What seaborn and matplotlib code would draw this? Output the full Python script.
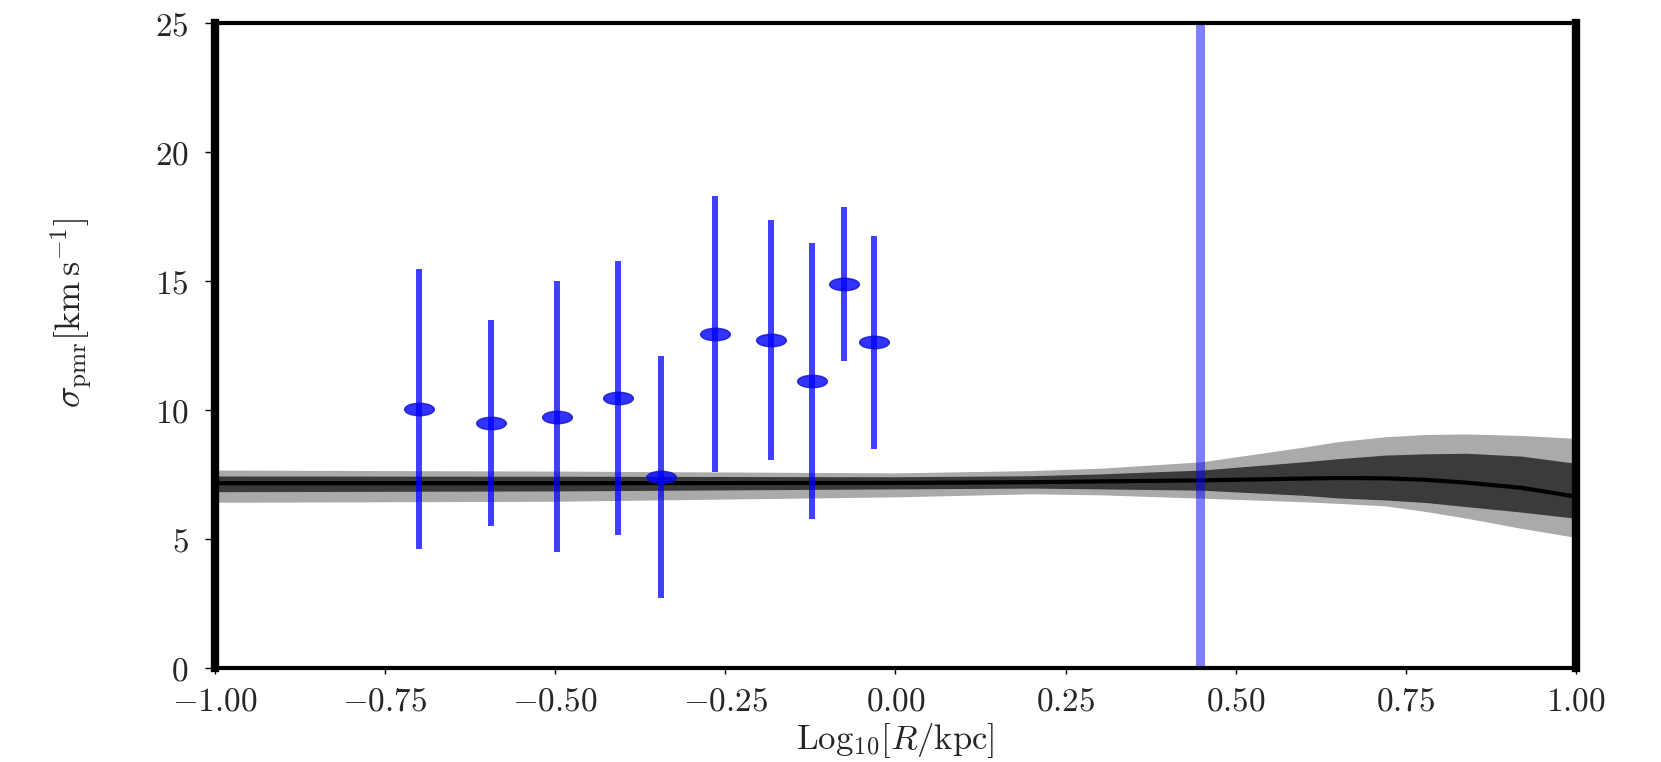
import numpy as np
import pandas as pd
import matplotlib
matplotlib.use("Agg")
import matplotlib.pyplot as plt
from matplotlib.path import Path
from matplotlib.transforms import Affine2D
from matplotlib.ticker import FuncFormatter
import seaborn as sns

sns.set_style("ticks")
plt.rcParams['mathtext.fontset'] = 'cm'
plt.rcParams['font.family'] = ['DejaVu Serif']

# binned data points (log10 R, sigma_pmr, error)
log_r = [-0.700, -0.594, -0.497, -0.408, -0.344, -0.265, -0.183, -0.123, -0.075, -0.032]
sigma = [10.03, 9.50, 9.73, 10.44, 7.40, 12.93, 12.70, 11.12, 14.88, 12.62]
sigma_err = [5.44, 3.99, 5.24, 5.31, 4.70, 5.35, 4.65, 5.34, 2.98, 4.13]

# model curve with 68% and 95% bands
model_x = [-1.00, -0.50, 0.00, 0.20, 0.30, 0.45, 0.60, 0.65, 0.72, 0.78, 0.84, 0.92, 1.00]
model_med = [7.15, 7.15, 7.16, 7.19, 7.22, 7.26, 7.33, 7.35, 7.34, 7.28, 7.17, 6.97, 6.63]
model_lo1 = [6.82, 6.85, 6.93, 6.96, 6.93, 6.88, 6.68, 6.58, 6.50, 6.40, 6.24, 6.03, 5.79]
model_hi1 = [7.43, 7.42, 7.40, 7.44, 7.51, 7.66, 7.98, 8.10, 8.24, 8.29, 8.31, 8.20, 7.92]
model_lo2 = [6.41, 6.45, 6.62, 6.74, 6.70, 6.57, 6.43, 6.37, 6.27, 6.05, 5.79, 5.40, 5.05]
model_hi2 = [7.66, 7.62, 7.55, 7.64, 7.73, 7.98, 8.55, 8.76, 8.95, 9.04, 9.06, 9.00, 8.89]

r_half = 0.447

model = pd.DataFrame({'x': model_x, 'med': model_med})

fig = plt.figure(figsize=(16.61, 7.62), dpi=100)
ax = fig.add_axes([0.1294, 0.1238, 0.8194, 0.8464])

ax.fill_between(model_x, model_lo2, model_hi2, color='#aaaaaa', lw=0)
ax.fill_between(model_x, model_lo1, model_hi1, color='#3b3b3b', lw=0)
sns.lineplot(data=model, x='x', y='med', color='black', lw=3, ax=ax)

# stretched elliptical marker
ell = Path.unit_circle().transformed(Affine2D().scale(1.0, 0.42))
ax.errorbar(log_r, sigma, yerr=sigma_err, fmt='none', ecolor='blue',
            elinewidth=4.3, alpha=0.75, zorder=3)
sns.scatterplot(x=log_r, y=sigma, marker=ell, s=460, color='blue',
                edgecolor='#1010c0', linewidth=1, alpha=0.8, zorder=4, ax=ax)

ax.axvline(r_half, color='blue', alpha=0.5, lw=6.5)

ax.set_xlim(-1, 1)
ax.set_ylim(0, 25)
ax.set_xticks([-1.0, -0.75, -0.5, -0.25, 0.0, 0.25, 0.5, 0.75, 1.0])
ax.set_yticks([0, 5, 10, 15, 20, 25])
ax.xaxis.set_major_formatter(FuncFormatter(lambda v, p: r'$%.2f$' % v))
ax.yaxis.set_major_formatter(FuncFormatter(lambda v, p: r'$%d$' % v))
ax.tick_params(axis='both', labelsize=24, width=1, color='black')
ax.tick_params(axis='y', length=7, pad=12)
ax.tick_params(axis='x', length=4, pad=9)

for side in ['left', 'right']:
    ax.spines[side].set_linewidth(6)
for side in ['top', 'bottom']:
    ax.spines[side].set_linewidth(3)
for sp in ax.spines.values():
    sp.set_color('black')
    sp.set_visible(True)

ax.set_xlabel(r'$\mathrm{Log}_{10}[R/\mathrm{kpc}]$', fontsize=25)
ax.set_ylabel(r'$\sigma_{\rm pmr} [\mathrm{km\,s}^{-1}]$', fontsize=26)
ax.xaxis.set_label_coords(0.5, -0.083)
ax.yaxis.set_label_coords(-0.088, 0.55)

plt.savefig('out.png', dpi=100)
